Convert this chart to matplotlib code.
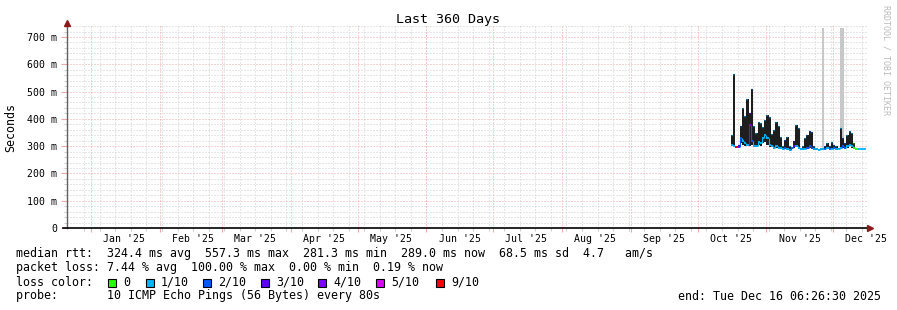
import matplotlib
matplotlib.use("Agg")
import matplotlib.pyplot as plt
import matplotlib.dates as mdates
from matplotlib.patches import Rectangle
from datetime import datetime, timedelta

# ---------------- data ----------------
start = datetime(2024, 12, 21, 6, 26, 30)
end = datetime(2025, 12, 16, 6, 26, 30)
data_start = datetime(2025, 10, 16)

# daily median rtt (ms), smoke low / high (ms), loss colour index
median_ms = [305, 300, 298, 298, 330, 320, 310, 305, 378, 320, 300, 300, 315, 312, 330,
             340, 330, 305, 300, 295, 300, 295, 292, 290, 295, 290, 285, 292, 300, 300,
             292, 289, 289, 290, 292, 300, 292, 289, 289, 287, 289, 288, 290, 292, 290,
             290, 292, 289, 290, 295, 300, 292, 300, 305, 300, 292, 291, 290, 290, 289, 288]
smoke_lo = [300, 300, 295, 296, 310, 305, 300, 300, 300, 305, 298, 298, 305, 300, 310,
            315, 305, 298, 296, 290, 292, 290, 289, 285, 290, 285, 282, 290, 295, 296,
            290, 287, 287, 288, 290, 295, 290, 287, 287, 285, 287, 287, 290, 290, 288,
            288, 290, 287, 288, 290, 295, 290, 295, 300, 295, 290, 291, 290, 290, 289, 288]
smoke_hi = [340, 564, 300, 305, 372, 440, 410, 473, 420, 509, 375, 350, 390, 385, 370,
            395, 414, 405, 345, 360, 390, 375, 335, 300, 322, 335, 300, 295, 320, 377,
            365, 295, 300, 330, 340, 355, 353, 300, 292, 290, 295, 290, 300, 310, 300,
            315, 305, 300, 295, 366, 330, 310, 340, 355, 350, 310, 291, 290, 290, 289, 288]
loss_idx = [1, 1, 6, 3, 2, 1, 1, 1, 4, 2, 1, 1, 1, 1, 1,
            1, 1, 1, 1, 1, 1, 1, 1, 1, 2, 1, 1, 2, 3, 1,
            1, 1, 1, 1, 2, 2, 2, 1, 1, 1, 1, 1, 2, 1, 2,
            1, 2, 1, 1, 1, 2, 2, 1, 1, 1, 0, 0, 1, 1, 1, 1]
full_gray_days = [41, 49, 50]  # days with smoke reaching the top

loss_labels = ["0", "1/10", "2/10", "3/10", "4/10", "5/10", "9/10"]
loss_colors = ["#26ff00", "#00b8ff", "#0059ff", "#5e00ff", "#7e00ff", "#dd00ff", "#ff0000"]

y_major = [0, 100, 200, 300, 400, 500, 600, 700]
y_top = 744

title = "Last 360 Days"
legend_lines = [
    "median rtt:  324.4 ms avg  557.3 ms max  281.3 ms min  289.0 ms now  68.5 ms sd  4.7   am/s",
    "packet loss: 7.44 % avg  100.00 % max  0.00 % min  0.19 % now",
    "loss color:",
    "probe:       10 ICMP Echo Pings (56 Bytes) every 80s",
]
end_text = "end: Tue Dec 16 06:26:30 2025"

# ---------------- figure ----------------
W, H = 897, 310
fig = plt.figure(figsize=(W / 100, H / 100), dpi=100)
fig.patch.set_facecolor("white")
ax = fig.add_axes([67 / W, 82 / H, 800 / W, 203 / H])
ax.set_facecolor("white")
mono = "DejaVu Sans Mono"

ax.set_xlim(start, end)
ax.set_ylim(0, y_top)

GRAY = "#cfcfcf"
PINK = "#f2a8a8"
LW = 0.72
DOT = (0, (1, 2))

# grid: weekly (Sunday) minor, monthly major; y minor every 20, major every 100
d = datetime(2024, 12, 29)
weeks = []
while d < end:
    weeks.append(d)
    d += timedelta(days=7)
months = [datetime(2025, k, 1) for k in range(1, 13)]
for w in weeks:
    ax.axvline(w, color=GRAY, lw=LW, ls=DOT, zorder=0)
for yv in range(0, y_top, 20):
    if yv % 100:
        ax.axhline(yv, color=GRAY, lw=LW, ls=DOT, zorder=0)
for mth in months:
    ax.axvline(mth, color=PINK, lw=LW, ls=DOT, zorder=0.5)
for yv in y_major[1:]:
    ax.axhline(yv, color=PINK, lw=LW, ls=DOT, zorder=0.5)

# ticks
ax.set_yticks(y_major)
ax.set_yticklabels(["0" if v == 0 else f"{v} m" for v in y_major], fontfamily=mono, fontsize=7.1)
ax.set_yticks(range(0, y_top, 20), minor=True)
ax.tick_params(axis="y", which="major", length=4, width=0.8, color=PINK, pad=3)
ax.tick_params(axis="y", which="minor", length=2, width=0.8, color=GRAY)
ax.set_xticks(months)
ax.set_xticklabels([])
ax.set_xticks(weeks, minor=True)
ax.tick_params(axis="x", which="major", length=3, width=0.8, color=PINK)
ax.tick_params(axis="x", which="minor", length=2, width=0.8, color=GRAY)
for mth in months:
    mid = mth.replace(day=16)
    ax.text(mid, -0.03, mth.strftime("%b '25"), transform=ax.get_xaxis_transform(),
            ha="center", va="top", fontfamily=mono, fontsize=7.1)

for s in ["top", "right"]:
    ax.spines[s].set_visible(False)
ax.spines["left"].set_color("#606060")
ax.spines["left"].set_linewidth(1)
ax.spines["bottom"].set_visible(False)
ax.plot([-0.005, 1.004], [0, 0], transform=ax.transAxes, color="black", lw=1.2, clip_on=False, zorder=5)
ax.plot([0], [1.012], transform=ax.transAxes, marker="^", color="#8b1a1a", ms=4, clip_on=False, zorder=6)
ax.plot([1.004], [0], transform=ax.transAxes, marker=">", color="#8b1a1a", ms=4, clip_on=False, zorder=6)

# ---------------- data marks ----------------
days = [data_start + timedelta(days=i) for i in range(len(median_ms))]
widths = [min(1.0, (end - dd).total_seconds() / 86400) for dd in days]
for i in full_gray_days:
    ax.bar(days[i], 733 - smoke_lo[i], bottom=smoke_lo[i], width=widths[i], align="edge",
           color="#c8c8c8", linewidth=0, zorder=2)
ax.bar(days, [h - l for h, l in zip(smoke_hi, smoke_lo)], bottom=smoke_lo, width=widths,
       align="edge", color="#1e1e1e", linewidth=0, zorder=3)
prev = None
for i, dd in enumerate(days):
    c = loss_colors[loss_idx[i]]
    x1 = dd + timedelta(days=widths[i])
    ax.hlines(median_ms[i], dd, x1, color=c, lw=1.3, zorder=4)
    if smoke_hi[i] - smoke_lo[i] > 8:
        ax.hlines(smoke_hi[i], dd, dd + timedelta(days=0.45), color=c, lw=1.0, zorder=4)
    if prev is not None:
        ax.vlines(dd, min(prev, median_ms[i]), max(prev, median_ms[i]), color=c, lw=0.8, zorder=4)
    prev = median_ms[i]

# ---------------- texts ----------------
def px(x, y):
    return x / W, 1 - y / H

fig.text(*px(448, 19), title, ha="center", va="center", fontfamily=mono, fontsize=9.6)
fig.text(*px(11, 127), "Seconds", ha="center", va="center", rotation=90, fontfamily=mono, fontsize=8.4)
fig.text(*px(886, 60), "RRDTOOL / TOBI OETIKER", ha="center", va="center", rotation=270,
         fontfamily=mono, fontsize=6, color="#bbbbbb")
for k, line in enumerate(legend_lines):
    fig.text(*px(16, 254 + 14 * k), line, ha="left", va="center", fontfamily=mono, fontsize=8.4)
box_x = [108, 146, 203, 261, 318, 376, 436]
for bx, lab, col in zip(box_x, loss_labels, loss_colors):
    fx, fy = px(bx, 287)
    fig.patches.append(Rectangle((fx, fy), 8 / W, 8 / H, transform=fig.transFigure,
                                 facecolor=col, edgecolor="black", lw=0.8))
    fig.text(*px(bx + 15, 282), lab, ha="left", va="center", fontfamily=mono, fontsize=8.4)
fig.text(*px(881, 296), end_text, ha="right", va="center", fontfamily=mono, fontsize=8.4)

fig.savefig("out.png", dpi=100, facecolor="white")
